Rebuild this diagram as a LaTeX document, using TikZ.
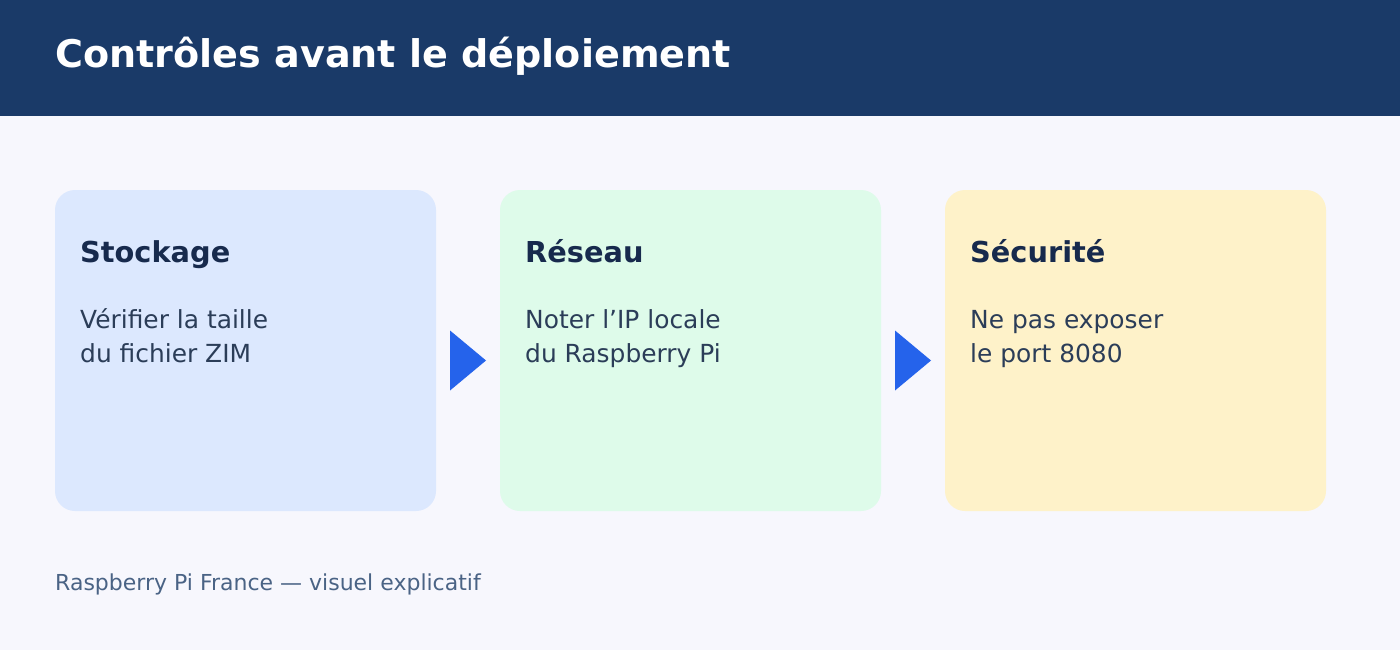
\documentclass[tikz,border=0pt]{standalone}
\usepackage{fontspec}
\setmainfont{DejaVu Sans}
\usetikzlibrary{positioning,calc}
\definecolor{bandblue}{HTML}{1A3A68}
\definecolor{pagebg}{HTML}{F7F7FD}
\definecolor{cardblue}{HTML}{DCE8FE}
\definecolor{cardgreen}{HTML}{DEFBEA}
\definecolor{cardyellow}{HTML}{FEF2C9}
\definecolor{arrowblue}{HTML}{2563EB}
\definecolor{headtext}{HTML}{172A4D}
\definecolor{bodytext}{HTML}{2B3D58}
\definecolor{notetext}{HTML}{4A6385}

\begin{document}
\begin{tikzpicture}[
  x=1pt, y=-1pt,
  card/.style={rounded corners=20pt, minimum width=381pt, minimum height=321pt, inner sep=0pt, outer sep=0pt},
  head/.style={anchor=base west, inner sep=0pt, text=headtext, font=\fontsize{28.8}{34}\selectfont\bfseries},
  body/.style={anchor=base west, inner sep=0pt, text=bodytext, align=left, font=\fontsize{24.9}{34.5}\selectfont},
  flow/.style={fill=arrowblue},
]
% --- page and header band ---
\fill[pagebg] (0,0) rectangle (1400,650);
\fill[bandblue] (0,0) rectangle (1400,116);
\node[anchor=base west, inner sep=0pt, text=white, font=\fontsize{38.1}{44}\selectfont\bfseries]
  (title) at (55,68) {Contrôles avant le déploiement};

% --- cards ---
\node[card, fill=cardblue, anchor=north west] (stock) at (55,190) {};
\node[card, fill=cardgreen, right=64pt of stock] (net) {};
\node[card, fill=cardyellow, right=64pt of net] (secu) {};

% base of a two-line body sits on its second line
\node[head] at ($(stock.north west)+(25,72)$) {Stockage};
\node[body] at ($(stock.north west)+(25,172.5)$) {Vérifier la taille\\du fichier ZIM};

\node[head] at ($(net.north west)+(25,72)$) {Réseau};
\node[body] at ($(net.north west)+(25,172.5)$) {Noter l’IP locale\\du Raspberry Pi};

\node[head] at ($(secu.north west)+(25,72)$) {Sécurité};
\node[body] at ($(secu.north west)+(25,172.5)$) {Ne pas exposer\\le port 8080};

% --- flow arrows between cards ---
\fill[flow] ($(stock.east)+(14,-20)$) -- ($(stock.east)+(50,10)$) -- ($(stock.east)+(14,40)$) -- cycle;
\fill[flow] ($(net.east)+(14,-20)$) -- ($(net.east)+(50,10)$) -- ($(net.east)+(14,40)$) -- cycle;

% --- footer ---
\node[anchor=base west, inner sep=0pt, text=notetext, font=\fontsize{22}{26}\selectfont]
  (note) at (55,590) {Raspberry Pi France — visuel explicatif};
\end{tikzpicture}
\end{document}
